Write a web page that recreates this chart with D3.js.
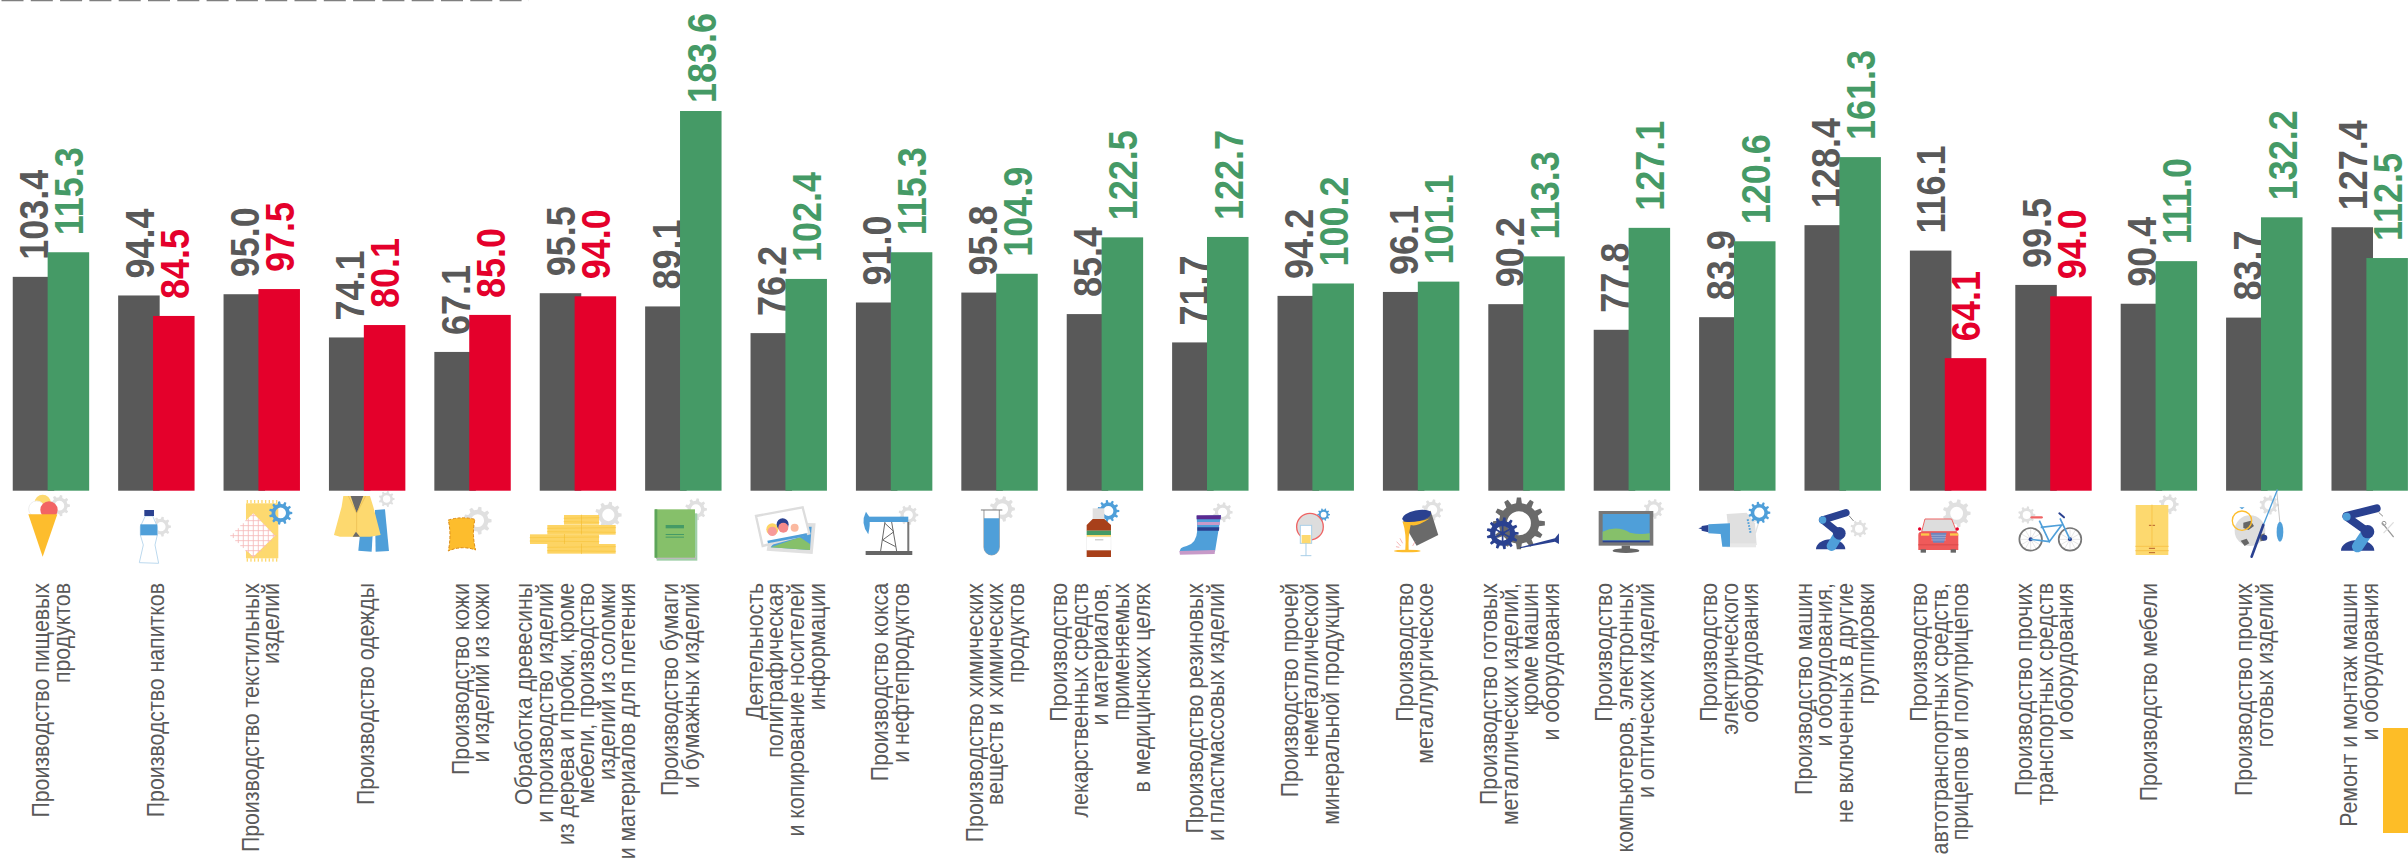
<!DOCTYPE html>
<html>
<head>
<meta charset="utf-8">
<script src="https://cdn.jsdelivr.net/npm/d3@7"></script>
<style>
html, body { margin: 0; padding: 0; background: #fff; overflow: hidden; }
text { font-family: "Liberation Sans", Arial, sans-serif; }
</style>
</head>
<body>
<div id="grafico"></div>
<script>
var categorias = [
	["Производство пищевых", "продуктов"],
	["Производство напитков"],
	["Производство текстильных", "изделий"],
	["Производство одежды"],
	["Производство кожи", "и изделий из кожи"],
	["Обработка древесины", "и производство изделий", "из дерева и пробки, кроме", "мебели, производство", "изделий из соломки", "и материалов для плетения"],
	["Производство бумаги", "и бумажных изделий"],
	["Деятельность", "полиграфическая", "и копирование носителей", "информации"],
	["Производство кокса", "и нефтепродуктов"],
	["Производство химических", "веществ и химических", "продуктов"],
	["Производство", "лекарственных средств", "и материалов,", "применяемых", "в медицинских целях"],
	["Производство резиновых", "и пластмассовых изделий"],
	["Производство прочей", "неметаллической", "минеральной продукции"],
	["Производство", "металлургическое"],
	["Производство готовых", "металлических изделий,", "кроме машин", "и оборудования"],
	["Производство", "компьютеров, электронных", "и оптических изделий"],
	["Производство", "электрического", "оборудования"],
	["Производство машин", "и оборудования,", "не включенных в другие", "группировки"],
	["Производство", "автотранспортных средств,", "прицепов и полуприцепов"],
	["Производство прочих", "транспортных средств", "и оборудования"],
	["Производство мебели"],
	["Производство прочих", "готовых изделий"],
	["Ремонт и монтаж машин", "и оборудования"]
];
var valores_a = [103.4, 94.4, 95.0, 74.1, 67.1, 95.5, 89.1, 76.2, 91.0, 95.8, 85.4, 71.7, 94.2, 96.1, 90.2, 77.8, 83.9, 128.4, 116.1, 99.5, 90.4, 83.7, 127.4];
var valores_b = [115.3, 84.5, 97.5, 80.1, 85.0, 94.0, 183.6, 102.4, 115.3, 104.9, 122.5, 122.7, 100.2, 101.1, 113.3, 127.1, 120.6, 161.3, 64.1, 94.0, 111.0, 132.2, 112.5];

var cinza = "#595959", verde = "#459a66", vermelho = "#e4002b";
var azul = "#4f9fd9", marinho = "#2a4190", amarelo = "#fdd96f", ouro = "#fdbd2d", engrenagem = "#e0e0e0", rosa = "#ef6464";

var width = 2408, height = 861;

var svg = d3.select("#grafico").append("svg")
	.attr("width", width)
	.attr("height", height)
	.style("display", "block");

var indices = d3.range(categorias.length);

var x = d3.scaleBand()
	.domain(indices)
	.range([12.75, 2407.9])
	.paddingInner(0.275)
	.paddingOuter(0);

var x_serie = d3.scaleBand()
	.domain(["a", "b"])
	.range([0, x.bandwidth()])
	.paddingInner(-0.19);

// os rotulos tem passo um pouco menor que o das barras
var x_rotulo = d3.scalePoint()
	.domain(indices)
	.range([51, 2359]);

var y = d3.scaleLinear()
	.domain([0, 183.6])
	.range([490.7, 111]);

function cor(v) { return v >= 100 ? verde : vermelho; }

function desenha_serie(valores, serie, fill) {
	svg.append("g").selectAll("rect")
		.data(valores)
		.enter().append("rect")
		.attr("x", function(d, i) { return x(i) + x_serie(serie); })
		.attr("y", function(d) { return y(d); })
		.attr("width", x_serie.bandwidth())
		.attr("height", function(d) { return y(0) - y(d); })
		.attr("fill", fill);

	svg.append("g").selectAll("text")
		.data(valores)
		.enter().append("text")
		.attr("transform", function(d, i) {
			var cx = x(i) + x_serie(serie) + x_serie.bandwidth() / 2;
			// a barra mais alta tem o rotulo mais perto, para caber na figura
			var base = Math.max(y(d) - 17, 103);
			return "translate(" + cx + "," + base + ") rotate(-90) scale(1,1.14)";
		})
		.attr("dy", "0.36em")
		.attr("font-size", 36)
		.attr("font-weight", "bold")
		.attr("fill", fill)
		.text(function(d) { return d.toFixed(1); });
}

desenha_serie(valores_a, "a", cinza);
desenha_serie(valores_b, "b", cor);

// rotulos das categorias
var passo_linha = 20.6;
svg.append("g").selectAll("g")
	.data(categorias)
	.enter().append("g")
	.attr("transform", function(d, i) { return "translate(" + x_rotulo(i) + ",583)"; })
	.each(function(linhas) {
		d3.select(this).selectAll("text")
			.data(linhas)
			.enter().append("text")
			.attr("transform", function(d, j) {
				return "translate(" + ((j - (linhas.length - 1) / 2) * passo_linha) + ",0) rotate(-90) scale(1,1.08)";
			})
			.attr("dy", "0.36em")
			.attr("text-anchor", "end")
			.attr("font-size", 21.3)
			.attr("fill", cinza)
			.text(function(d) { return d; });
	});

// linha tracejada no topo
svg.append("line")
	.attr("x1", 1.5).attr("x2", 529)
	.attr("y1", 0.5).attr("y2", 0.5)
	.attr("stroke", "#7f7f7f")
	.attr("stroke-width", 1.5)
	.attr("stroke-dasharray", "22 7.3");

// bloco amarelo no canto
svg.append("rect")
	.attr("x", 2383).attr("y", 728)
	.attr("width", 25).attr("height", 105)
	.attr("fill", "#fdbd27");

// icones, desenhados em coordenadas de 3x
function camada(x0) {
	return svg.append("g").attr("transform", "translate(" + x0 + ",490) scale(0.3333)");
}
function P(g, d, fill, stroke, sw) {
	return g.append("path").attr("d", d).attr("fill", fill || "none")
		.attr("stroke", stroke || "none").attr("stroke-width", sw || 0);
}
function R(g, a, b, w, h, fill) {
	return g.append("rect").attr("x", a).attr("y", b).attr("width", w).attr("height", h).attr("fill", fill);
}
function C(g, a, b, r, fill, stroke, sw) {
	return g.append("circle").attr("cx", a).attr("cy", b).attr("r", r).attr("fill", fill || "none")
		.attr("stroke", stroke || "none").attr("stroke-width", sw || 0);
}
function L(g, a, b, c, e, stroke, sw) {
	return g.append("line").attr("x1", a).attr("y1", b).attr("x2", c).attr("y2", e)
		.attr("stroke", stroke).attr("stroke-width", sw).attr("stroke-linecap", "round");
}
function gear(g, cx, cy, r, fill, dentes) {
	var n = dentes || 9, pts = [];
	for (var k = 0; k < n; k++) {
		var a = k / n * 2 * Math.PI, t = Math.PI / n;
		[[-0.5, 0.78], [-0.28, 1], [0.28, 1], [0.5, 0.78]].forEach(function(q) {
			var b = a + q[0] * t * 1.1;
			pts.push([cx + r * q[1] * Math.cos(b), cy + r * q[1] * Math.sin(b)]);
		});
	}
	var h = r * 0.46;
	var d = "M" + pts.join("L") + "Z M" + (cx + h) + "," + cy + " A" + h + "," + h + " 0 1,0 " + (cx - h) + "," + cy + " A" + h + "," + h + " 0 1,0 " + (cx + h) + "," + cy + "Z";
	P(g, d, fill).attr("fill-rule", "evenodd");
}

var g1 = camada(0), g2 = camada(520), g3 = camada(1040), g4 = camada(1560), g5 = camada(1980);

// sorvete
gear(g1, 178, 47, 32, engrenagem);
C(g1, 128, 38, 24, amarelo);
C(g1, 110, 57, 24, "#fff", "#eee", 3);
C(g1, 147, 60, 26, "#f26464");
P(g1, "M85,73L172,73L128,200Z", ouro);
// garrafa
gear(g1, 483, 110, 30, engrenagem);
P(g1, "M436,78L421,110L421,135L430,165L418,218L476,220L465,165L472,135L472,110L458,78Z", "#fff", "#bcd9ee", 3);
R(g1, 421, 103, 51, 33, azul);
R(g1, 433, 60, 29, 18, marinho);
// tecidos
R(g1, 738, 40, 97, 165, amarelo);
for (var k = 0; k < 9; k++) {
	R(g1, 740 + k * 11, 30, 4, 10, amarelo);
	R(g1, 740 + k * 11, 205, 4, 10, amarelo);
}
P(g1, "M692,137L760,70L825,137L760,200Z", "#fff");
for (var k = 0; k < 9; k++) {
	var w = 68 - Math.abs(k - 4) * 15;
	L(g1, 760 - w, 77 + k * 15, 760 + w, 77 + k * 15, "#f4b8b8", 2.5);
	L(g1, 700 + k * 15, 137 - (66 - Math.abs(k - 4) * 15), 700 + k * 15, 137 + (66 - Math.abs(k - 4) * 15), "#f4b8b8", 2.5);
}
gear(g1, 842, 69, 35, azul, 11);
// roupa
gear(g1, 1160, 27, 24, engrenagem);
P(g1, "M1125,60L1155,58L1167,183L1127,185Z", azul);
P(g1, "M1080,135L1118,135L1115,185L1075,182Z", azul);
P(g1, "M1030,18L1110,18L1120,50L1142,135L1110,140L1020,140L1002,135L1025,50Z", amarelo);
P(g1, "M1052,18L1090,18L1070,70Z", "#6a6a6a");
P(g1, "M1058,140L1080,140L1068,125Z", "#6a6a6a");
P(g1, "M1045,18L1070,70L1070,125", null, "#e8b94f", 2);
P(g1, "M1097,18L1070,70", null, "#e8b94f", 2);
// couro
gear(g1, 1433, 92, 42, engrenagem);
P(g1, "M1345,90Q1385,78 1425,88Q1415,130 1427,180Q1385,165 1345,183Q1355,135 1345,90Z", ouro, "#d98a1a", 3).attr("stroke-dasharray", "9 5");

// madeira
gear(g2, 265, 75, 40, engrenagem);
[[132, 75, 105], [82, 105, 205], [30, 133, 207], [82, 162, 205]].forEach(function(t) {
	R(g2, t[0], t[1], t[2], 29, "#fdd464");
	L(g2, t[0], t[1] + 10, t[0] + t[2], t[1] + 8, "#f5c030", 1.5);
	L(g2, t[0], t[1] + 20, t[0] + t[2], t[1] + 22, "#f5c030", 1.5);
	L(g2, t[0] + t[2] / 2, t[1], t[0] + t[2] / 2, t[1] + 29, "#f0b828", 1.5);
});
// livro
gear(g2, 528, 58, 33, engrenagem);
R(g2, 410, 70, 122, 142, "#9fcfa8");
R(g2, 408, 198, 120, 9, "#bbb");
R(g2, 404, 58, 121, 145, "#86c06a");
R(g2, 404, 58, 8, 145, "#5da55a");
R(g2, 437, 105, 55, 10, verde);
R(g2, 437, 132, 55, 3, verde);
R(g2, 437, 140, 55, 3, verde);
// fotos
P(g2, "M755,95L887,100L878,192L740,182Z", "#e0e0e0");
P(g2, "M800,112L875,110L870,180L752,172Z", azul);
P(g2, "M752,172L840,142L870,162L870,180Z", "#86c06a");
P(g2, "M708,78L848,52L868,130L728,168Z", "#fff", "#ddd", 7);
C(g2, 757, 118, 18, "#fdd464");
C(g2, 757, 124, 14, "#f79a9a");
C(g2, 788, 103, 18, marinho);
C(g2, 790, 113, 15, "#f58a8a");
C(g2, 824, 113, 12, "#fbb9a0");
P(g2, "M742,152L860,130L862,138L744,160Z", azul);
// petroleo
gear(g2, 1165, 75, 30, engrenagem);
R(g2, 1045, 80, 120, 16, azul);
P(g2, "M1038,65Q1020,100 1045,133Q1052,100 1048,80Z", azul);
R(g2, 1162, 96, 6, 90, "#777");
P(g2, "M1095,96L1082,183M1115,96L1130,183M1095,100L1122,125L1088,150L1127,170", null, "#666", 3);
R(g2, 1037, 183, 140, 12, "#666");
// tubo de ensaio
gear(g2, 1447, 57, 38, engrenagem);
P(g2, "M1392,60L1392,172A23,23 0 0,0 1438,172L1438,60", "#fff", "#999", 3);
P(g2, "M1392,85L1438,85L1438,172A23,23 0 0,1 1392,172Z", azul);
L(g2, 1384, 60, 1446, 60, "#777", 3);

// remedio
gear(g3, 205, 63, 33, azul, 11);
R(g3, 158, 55, 35, 32, "#e0e0e0");
P(g3, "M158,87L193,87L213,105L213,122L140,122L140,105Z", "#a8401a");
R(g3, 140, 122, 73, 13, verde);
R(g3, 140, 135, 73, 6, amarelo);
R(g3, 140, 141, 73, 40, "#fff").attr("stroke", "#eee").attr("stroke-width", 2);
R(g3, 165, 148, 25, 3, "#bbb");
R(g3, 140, 181, 73, 20, "#a8401a");
// bota
gear(g3, 548, 67, 30, engrenagem);
P(g3, "M470,78L543,75L525,185L420,188Q416,172 440,168Q470,160 472,120Z", azul);
P(g3, "M470,76L543,76L542,88L470,88Z", "#5b2a91");
P(g3, "M472,96L540,96L539,105L472,105Z", "#c79ac8");
P(g3, "M472,112L538,112L537,122L472,122Z", marinho);
P(g3, "M418,183L525,180L524,192L420,194Z", "#c79ac8");
// espelho e taca
gear(g3, 851, 74, 19, azul, 10);
C(g3, 810, 110, 40, "#ddd", rosa, 4);
R(g3, 781, 106, 34, 54, "#fff").attr("stroke", "#a9cfe8").attr("stroke-width", 3);
R(g3, 785, 135, 27, 25, amarelo);
L(g3, 798, 160, 798, 197, "#a9cfe8", 3);
L(g3, 783, 197, 813, 197, "#a9cfe8", 3);
// metalurgia
gear(g3, 1177, 60, 32, engrenagem);
P(g3, "M1088,95L1172,62L1195,135L1130,167Z", "#6a6a6a");
g3.append("ellipse").attr("cx", 1130).attr("cy", 78).attr("rx", 44).attr("ry", 17)
	.attr("transform", "rotate(-12 1130 78)").attr("fill", marinho);
P(g3, "M1088,95Q1130,100 1170,85Q1130,112 1112,105Q1104,140 1106,180L1096,180Q1100,130 1088,95Z", ouro);
g3.append("ellipse").attr("cx", 1102).attr("cy", 183).attr("rx", 40).attr("ry", 4).attr("fill", ouro);
P(g3, "M1070,155L1082,168M1080,145L1088,160M1125,155L1118,168M1068,170L1078,172", null, "#f4a8a8", 2.5);
// engrenagens
gear(g3, 1437, 100, 78, "#6a6a6a", 12);
C(g3, 1437, 100, 27, "none", "#fff", 4);
gear(g3, 1388, 130, 48, marinho, 13);
C(g3, 1388, 130, 6, marinho);
L(g3, 1388, 105, 1388, 155, marinho, 5);
L(g3, 1366, 118, 1410, 142, marinho, 5);
L(g3, 1366, 142, 1410, 118, marinho, 5);
P(g3, "M1440,172L1545,145L1557,130L1557,162L1545,155L1440,175Z", marinho);

// monitor
gear(g4, 281, 57, 30, engrenagem);
R(g4, 116, 63, 164, 104, "#777");
R(g4, 128, 72, 141, 80, azul);
P(g4, "M128,125Q170,105 210,128Q240,135 269,130V150H128Z", "#86c06a");
R(g4, 128, 152, 141, 5, marinho);
R(g4, 185, 167, 25, 12, "#666");
g4.append("ellipse").attr("cx", 198).attr("cy", 182).attr("rx", 40).attr("ry", 7).attr("fill", "#666");
// furadeira e chaleira
P(g4, "M500,72L560,68L585,100L590,165L510,165Z", "#e0e0e0");
R(g4, 500, 160, 88, 12, "#e8e8e8");
P(g4, "M580,95L620,80M600,85L586,130", null, "#e0e0e0", 4);
L(g4, 563, 88, 572, 130, azul, 6).attr("stroke-dasharray", "5 4").attr("stroke-linecap", "butt");
gear(g4, 598, 68, 33, azul, 11);
P(g4, "M445,103L510,100L510,132L510,170L487,170L482,132L445,130Z", azul);
P(g4, "M415,115L425,112L425,108L445,105L445,127L425,122L425,118Z", marinho);
// robo
gear(g4, 897, 116, 26, engrenagem);
P(g4, "M768,178A44,30 0 0,1 856,178Z", marinho);
L(g4, 815, 168, 838, 130, azul, 30);
L(g4, 838, 130, 788, 90, marinho, 22);
L(g4, 788, 90, 858, 68, marinho, 22);
L(g4, 868, 78, 880, 92, "#888", 3);
C(g4, 838, 130, 19, marinho);
C(g4, 788, 90, 11, azul);
// carro
gear(g4, 1190, 70, 42, engrenagem);
P(g4, "M1095,87L1175,87L1190,125L1085,125Z", "#ddd", rosa, 3);
P(g4, "M1075,135Q1075,125 1085,125L1185,125Q1195,125 1195,135L1195,180L1075,180Z", "#ef5a5a");
R(g4, 1083, 130, 25, 7, "#fdc84a");
R(g4, 1170, 130, 25, 7, "#fdc84a");
P(g4, "M1112,128L1160,128L1152,158L1120,158Z", "#6f86bd");
[136, 143, 150].forEach(function(t) { L(g4, 1115, t, 1157, t, "#c5cfe6", 1.5); });
R(g4, 1075, 163, 120, 3, "#d94a4a");
R(g4, 1082, 178, 16, 10, "#666");
R(g4, 1172, 178, 16, 10, "#666");
C(g4, 1079, 117, 5, "#e4002b");
C(g4, 1192, 117, 5, "#e4002b");

// bicicleta
gear(g5, 140, 75, 26, engrenagem);
[152, 270].forEach(function(cx) {
	for (var a = 0; a < 6; a++) {
		var t = a * Math.PI / 6;
		L(g5, cx - 32 * Math.cos(t), 148 - 32 * Math.sin(t), cx + 32 * Math.cos(t), 148 + 32 * Math.sin(t), "#ccc", 1.5);
	}
	C(g5, cx, 148, 34, "none", "#777", 5);
	C(g5, cx, 148, 6, marinho);
});
P(g5, "M270,148L240,85M178,92L208,155L245,105L182,112M152,148L208,155", null, azul, 5);
L(g5, 155, 82, 185, 82, rosa, 7);
L(g5, 238, 70, 252, 82, marinho, 6);
// armario
gear(g5, 566, 43, 30, engrenagem);
R(g5, 467, 45, 98, 150, amarelo);
L(g5, 516, 45, 516, 168, "#f5b93a", 2);
L(g5, 467, 169, 565, 169, "#f5b93a", 2);
L(g5, 467, 182, 565, 182, "#f5b93a", 2);
L(g5, 508, 106, 524, 106, "#b8602a", 3).attr("stroke-dasharray", "5 6");
L(g5, 508, 175, 524, 175, "#b8602a", 3);
L(g5, 508, 188, 524, 188, "#b8602a", 3);
// esportes
gear(g5, 867, 45, 29, engrenagem);
C(g5, 810, 122, 46, "#ddd");
P(g5, "M790,98L812,92L822,108L806,120L790,114Z", "#666");
P(g5, "M782,152L800,146L808,160L794,168Z", "#666");
P(g5, "M838,136L854,130L852,152L842,154Z", "#666");
C(g5, 786, 92, 29, "none", ouro, 4);
P(g5, "M778,52L794,52L786,58Z", azul);
L(g5, 890, 0, 900, 100, "#aaa", 2);
g5.append("ellipse").attr("cx", 900).attr("cy", 125).attr("rx", 10).attr("ry", 30).attr("fill", azul);
L(g5, 850, 105, 892, 0, azul, 4);
L(g5, 815, 200, 850, 105, marinho, 8);
C(g5, 853, 143, 9, marinho);
// robo e chave
P(g5, "M1083,182A50,32 0 0,1 1183,182Z", marinho);
L(g5, 1133, 170, 1163, 125, azul, 34);
L(g5, 1163, 125, 1100, 80, marinho, 24);
L(g5, 1100, 78, 1190, 55, marinho, 24);
L(g5, 1197, 68, 1208, 78, "#888", 3);
C(g5, 1163, 125, 20, marinho);
C(g5, 1100, 80, 12, azul);
L(g5, 1208, 100, 1240, 140, "#999", 4);
L(g5, 1240, 98, 1212, 128, "#ddd", 4);
C(g5, 1212, 100, 6, "none", "#999", 3);
</script>
</body>
</html>
